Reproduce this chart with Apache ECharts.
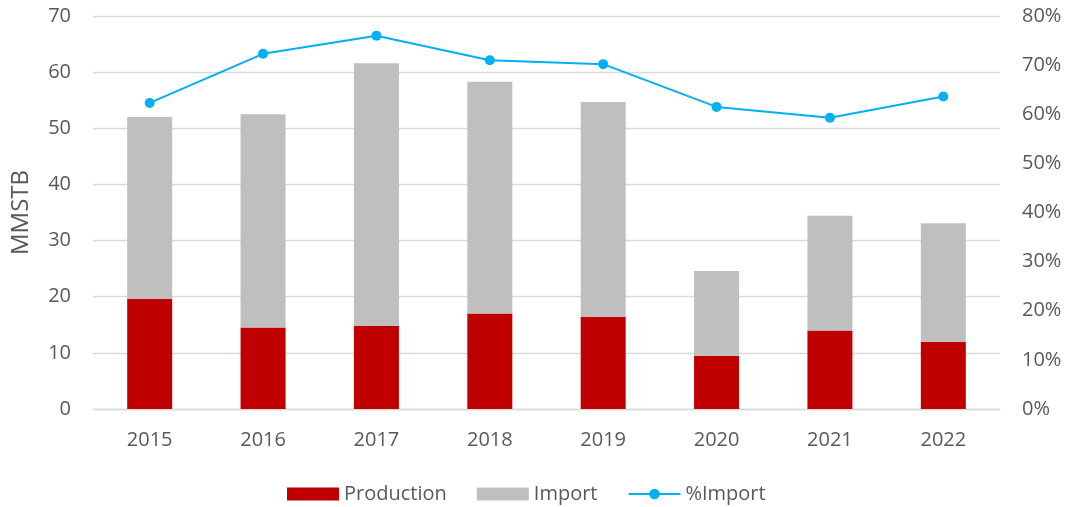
<!DOCTYPE html>
<html>
<head>
<meta charset="utf-8">
<script src="https://cdn.jsdelivr.net/npm/echarts@6/dist/echarts.min.js"></script>
<style>html,body{margin:0;padding:0;background:#fff;}#c{width:1069px;height:507px;}</style>
</head>
<body>
<div id="c"></div>
<script>
const categories = ['2015','2016','2017','2018','2019','2020','2021','2022'];
const production = [19.6, 14.5, 14.8, 17.0, 16.4, 9.5, 14.0, 12.0];
const importVals = [32.4, 38.0, 46.8, 41.3, 38.3, 15.1, 20.4, 21.1];
const pctImport = [62.3, 72.3, 76.0, 71.0, 70.2, 61.5, 59.3, 63.6];
const leftTicks = {min: 0, max: 70, interval: 10};
const rightTicks = {min: 0, max: 80, interval: 10};

const FONT = 'Open Sans';
const TXT = '#595959';
const chart = echarts.init(document.getElementById('c'), null, {renderer: 'canvas'});
chart.setOption({
  animation: false,
  textStyle: {fontFamily: FONT},
  grid: {left: 93, right: 69, top: 16, bottom: 98},
  legend: {
    left: 282, top: 479,
    itemWidth: 52, itemHeight: 13, itemGap: 30,
    textStyle: {fontFamily: FONT, fontSize: 20, color: TXT},
    data: [
      {name: 'Production', icon: 'rect'},
      {name: 'Import', icon: 'rect'},
      {name: '%Import'}
    ]
  },
  xAxis: {
    type: 'category', data: categories,
    axisLine: {lineStyle: {color: '#D9D9D9', width: 1.3}},
    axisTick: {show: false},
    axisLabel: {color: TXT, fontSize: 20, margin: 21, fontFamily: FONT}
  },
  yAxis: [{
    type: 'value', min: leftTicks.min, max: leftTicks.max, interval: leftTicks.interval,
    name: 'MMSTB', nameLocation: 'middle', nameGap: 60, nameRotate: 90,
    nameTextStyle: {color: TXT, fontSize: 24, fontFamily: FONT},
    axisLine: {show: false}, axisTick: {show: false},
    axisLabel: {color: TXT, fontSize: 20, margin: 22, fontFamily: FONT},
    splitLine: {lineStyle: {color: '#D9D9D9', width: 1.3}}
  }, {
    type: 'value', min: rightTicks.min, max: rightTicks.max, interval: rightTicks.interval,
    axisLine: {show: false}, axisTick: {show: false},
    axisLabel: {color: TXT, fontSize: 20, margin: 22, fontFamily: FONT, formatter: '{value}%'},
    splitLine: {show: false}
  }],
  series: [{
    name: 'Production', type: 'bar', stack: 'a', barWidth: 45,
    data: production, itemStyle: {color: '#C00000'}
  }, {
    name: 'Import', type: 'bar', stack: 'a', barWidth: 45,
    data: importVals, itemStyle: {color: '#BFBFBF'}
  }, {
    name: '%Import', type: 'line', yAxisIndex: 1, data: pctImport,
    symbol: 'circle', symbolSize: 10,
    lineStyle: {color: '#00B0F0', width: 2},
    itemStyle: {color: '#00B0F0'}
  }]
});
</script>
</body>
</html>
